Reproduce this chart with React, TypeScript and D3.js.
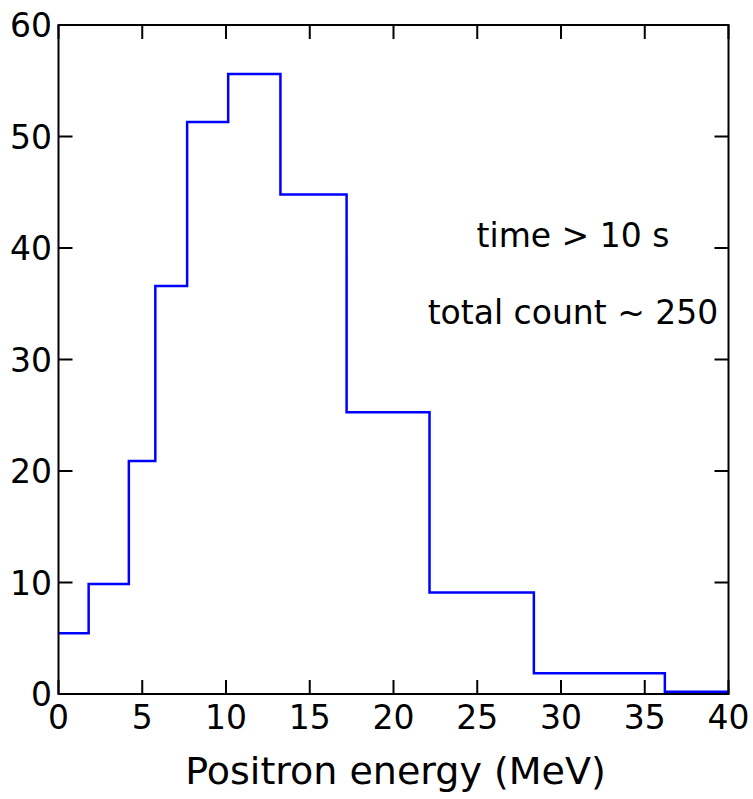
import React from "react";
import * as d3 from "d3";

// Histogram bin edges (MeV) and counts per bin
const binEdges = [0, 1.8, 4.2, 5.78, 7.68, 10.13, 13.25, 17.2, 22.15, 28.38, 36.2, 40];
const binCounts = [5.45, 9.87, 20.9, 36.6, 51.3, 55.6, 44.8, 25.26, 9.1, 1.85, 0.2];

const xTicks = [0, 5, 10, 15, 20, 25, 30, 35, 40];
const yTicks = [0, 10, 20, 30, 40, 50, 60];

const annotations = ["time > 10 s", "total count ~ 250"];
const xLabel = "Positron energy (MeV)";

const W = 753;
const H = 799;
const left = 58.5;
const right = 728.5;
const top = 25;
const bottom = 694;
const tickLen = 14;
const font = "'DejaVu Sans', Verdana, sans-serif";

export default function App() {
  const x = d3.scaleLinear().domain([0, 40]).range([left, right]);
  const y = d3.scaleLinear().domain([0, 60]).range([bottom, top]);

  // Build step outline of the histogram
  const pts: [number, number][] = [];
  binCounts.forEach((c, i) => {
    pts.push([binEdges[i], c]);
    pts.push([binEdges[i + 1], c]);
  });
  const line = d3
    .line<[number, number]>()
    .x((d) => x(d[0]))
    .y((d) => y(d[1]));
  const path = line(pts) ?? "";

  return (
    <svg
      width={W}
      height={H}
      style={{ position: "absolute", left: 0, top: 0, background: "#fff" }}
    >
      <defs>
        <clipPath id="plotArea">
          <rect x={left} y={top} width={right - left} height={bottom - top} />
        </clipPath>
      </defs>
      <path
        d={path}
        fill="none"
        stroke="#0000ff"
        strokeWidth={2.5}
        strokeLinejoin="miter"
        clipPath="url(#plotArea)"
      />

      {/* frame */}
      <rect
        x={left}
        y={top}
        width={right - left}
        height={bottom - top}
        fill="none"
        stroke="#000"
        strokeWidth={2}
      />

      {/* x ticks, inward on bottom and top */}
      {xTicks.map((t) => (
        <g key={`x${t}`}>
          <line x1={x(t)} x2={x(t)} y1={bottom} y2={bottom - tickLen} stroke="#000" strokeWidth={2} />
          <line x1={x(t)} x2={x(t)} y1={top} y2={top + tickLen} stroke="#000" strokeWidth={2} />
          <text
            x={x(t)}
            y={729}
            textAnchor="middle"
            fontFamily={font}
            fontSize={33}
            fill="#000"
          >
            {t}
          </text>
        </g>
      ))}

      {/* y ticks, inward on left and right */}
      {yTicks.map((t) => (
        <g key={`y${t}`}>
          <line x1={left} x2={left + tickLen} y1={y(t)} y2={y(t)} stroke="#000" strokeWidth={2} />
          <line x1={right} x2={right - tickLen} y1={y(t)} y2={y(t)} stroke="#000" strokeWidth={2} />
          <text
            x={52}
            y={y(t) + 12}
            textAnchor="end"
            fontFamily={font}
            fontSize={33}
            fill="#000"
          >
            {t}
          </text>
        </g>
      ))}

      {/* annotation text */}
      {annotations.map((a, i) => (
        <text
          key={a}
          x={573}
          y={247 + i * 77}
          textAnchor="middle"
          fontFamily={font}
          fontSize={33}
          fill="#000"
        >
          {a}
        </text>
      ))}

      <text
        x={(left + right) / 2 + 2}
        y={784}
        textAnchor="middle"
        fontFamily={font}
        fontSize={38}
        fill="#000"
      >
        {xLabel}
      </text>
    </svg>
  );
}
